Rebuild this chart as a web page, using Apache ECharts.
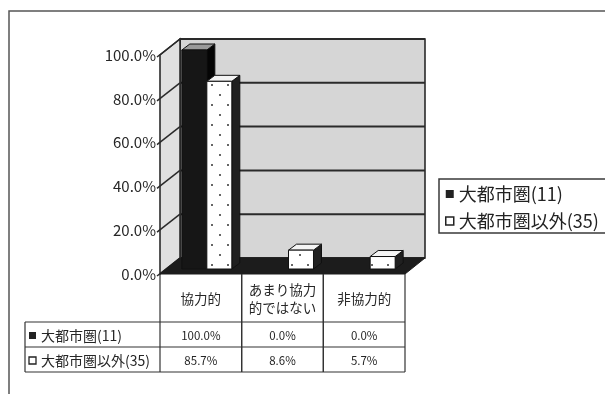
<!DOCTYPE html>
<html>
<head>
<meta charset="utf-8">
<script src="https://cdn.jsdelivr.net/npm/echarts@6/dist/echarts.min.js"></script>
<style>
html,body{margin:0;padding:0;background:#fff;}
#chart{width:605px;height:394px;}
</style>
</head>
<body>
<div id="chart"></div>
<script>
// ---- data ----
const categories = ['協力的', 'あまり協力的ではない', '非協力的'];
const seriesNames = ['大都市圏(11)', '大都市圏以外(35)'];
const metro = [100.0, 0.0, 0.0];
const nonMetro = [85.7, 8.6, 5.7];
const yTicks = [0, 20, 40, 60, 80, 100];

// ---- styling constants ----
const FONT = '"Noto Sans CJK JP", "Noto Sans", sans-serif';
const DX = 20, DY = -16;    // back wall offset
const BX = 6, BY = -5;      // bar front-face plane offset
const BDX = 8, BDY = -6;    // bar depth
const LINE = '#1e1e1e';
const TXT = '#262626';

// dotted pattern
const pat = document.createElement('canvas');
pat.width = 16; pat.height = 20;
(function () {
  const g = pat.getContext('2d');
  g.fillStyle = '#ffffff'; g.fillRect(0, 0, 16, 20);
  g.fillStyle = '#333333';
  g.beginPath(); g.arc(4, 5, 1.0, 0, Math.PI * 2); g.fill();
  g.beginPath(); g.arc(12, 15, 1.0, 0, Math.PI * 2); g.fill();
})();
const dotFill = { image: pat, repeat: 'repeat' };

const chart = echarts.init(document.getElementById('chart'), null, { renderer: 'canvas' });

function wallsRender(params, api) {
  const cs = params.coordSys;
  const x0 = cs.x, x1 = cs.x + cs.width;
  const yb = api.coord([0, 0])[1], yt = api.coord([0, 100])[1];
  const ch = [];
  ch.push({ type: 'polygon', shape: { points: [[x0 + DX, yt + DY], [x1 + DX, yt + DY], [x1 + DX, yb + DY], [x0 + DX, yb + DY]] },
    style: { fill: '#d6d6d6', stroke: LINE, lineWidth: 1.5 } });
  ch.push({ type: 'polygon', shape: { points: [[x0, yt], [x0 + DX, yt + DY], [x0 + DX, yb + DY], [x0, yb]] },
    style: { fill: '#e0e0e0', stroke: LINE, lineWidth: 1.5 } });
  yTicks.forEach(t => {
    const y = api.coord([0, t])[1];
    ch.push({ type: 'line', shape: { x1: x0 + DX, y1: y + DY, x2: x1 + DX, y2: y + DY }, style: { stroke: '#2a2a2a', lineWidth: 2 } });
    ch.push({ type: 'line', shape: { x1: x0 - 3, y1: y + 2, x2: x0 + DX, y2: y + DY }, style: { stroke: '#2a2a2a', lineWidth: 1.5 } });
  });
  ch.push({ type: 'polygon', shape: { points: [[x0, yb], [x0 + DX, yb + DY], [x1 + DX, yb + DY], [x1, yb]] },
    style: { fill: '#1c1c1c', stroke: '#1c1c1c', lineWidth: 1 } });
  return { type: 'group', children: ch };
}

function barRender(sIdx) {
  return function (params, api) {
    const i = api.value(0), v = api.value(1);
    if (!(v > 0)) return null;
    const c = api.coord([i, v]);
    const c0 = api.coord([i, 0]);
    const bw = api.size([1, 0])[0];
    const w = bw * 0.306;
    const left = c[0] + (sIdx === 0 ? -w : 0) + BX;
    const right = left + w;
    const top = c[1] + BY, bot = c0[1] + BY;
    const front = sIdx === 0 ? '#161616' : dotFill;
    const topFill = sIdx === 0 ? '#9a9a9a' : '#f4f4f4';
    const sideFill = sIdx === 0 ? '#050505' : '#202020';
    return { type: 'group', children: [
      { type: 'polygon', shape: { points: [[right, top], [right + BDX, top + BDY], [right + BDX, bot + BDY], [right, bot]] },
        style: { fill: sideFill, stroke: '#111', lineWidth: 1 } },
      { type: 'polygon', shape: { points: [[left, top], [left + BDX, top + BDY], [right + BDX, top + BDY], [right, top]] },
        style: { fill: topFill, stroke: '#111', lineWidth: 1 } },
      { type: 'rect', shape: { x: left, y: top, width: w, height: bot - top },
        style: { fill: front, stroke: '#111', lineWidth: 1 } }
    ] };
  };
}

const rowVals = [metro, nonMetro];
function tableRender(params, api) {
  const i = api.value(0);
  const cs = params.coordSys;
  const c = api.coord([i, 0]);
  const bw = api.size([1, 0])[0];
  const xl = c[0] - bw / 2, xr = c[0] + bw / 2;
  const yb = c[1];
  const r1 = yb + 48, r2 = yb + 73, rb = yb + 98;
  const tl = cs.x - 135;
  const ch = [];
  const ls = { stroke: '#333', lineWidth: 1.2 };
  ch.push({ type: 'line', shape: { x1: xl, y1: yb, x2: xl, y2: rb }, style: ls });
  ch.push({ type: 'line', shape: { x1: xr, y1: yb, x2: xr, y2: rb }, style: ls });
  rowVals.forEach((arr, r) => {
    const yc = (r === 0 ? (r1 + r2) / 2 : (r2 + rb) / 2) + 1;
    ch.push({ type: 'text', style: { text: arr[i].toFixed(1) + '%', x: c[0], y: yc, align: 'center', verticalAlign: 'middle',
      fontSize: 11.5, fontFamily: FONT, fill: TXT } });
  });
  if (i === 0) {
    [r1, r2, rb].forEach(y => ch.push({ type: 'line', shape: { x1: tl, y1: y, x2: cs.x + cs.width, y2: y }, style: ls }));
    ch.push({ type: 'line', shape: { x1: tl, y1: r1, x2: tl, y2: rb }, style: ls });
    seriesNames.forEach((n, r) => {
      const yc = (r === 0 ? (r1 + r2) / 2 : (r2 + rb) / 2) + 1;
      ch.push({ type: 'rect', shape: { x: tl + 4, y: yc - 3.5, width: 7, height: 7 },
        style: r === 0 ? { fill: '#222' } : { fill: '#fff', stroke: '#222', lineWidth: 1.3 } });
      ch.push({ type: 'text', style: { text: n, x: tl + 16, y: yc, align: 'left', verticalAlign: 'middle',
        fontSize: 14, fontFamily: FONT, fill: TXT } });
    });
  }
  return { type: 'group', children: ch };
}

chart.setOption({
  animation: false,
  backgroundColor: '#ffffff',
  grid: { left: 160, right: 200, top: 55, bottom: 120 },
  xAxis: {
    type: 'category',
    data: categories,
    axisLine: { show: false },
    axisTick: { show: false },
    axisLabel: {
      interval: 0,
      margin: 25,
      verticalAlign: 'middle',
      lineHeight: 18,
      fontSize: 13.5,
      fontFamily: FONT,
      color: TXT,
      formatter: s => s.length > 5 ? s.slice(0, 5) + '\n' + s.slice(5) : s
    },
    splitLine: { show: false }
  },
  yAxis: {
    type: 'value',
    min: 0, max: 100, interval: 20,
    axisLine: { show: false },
    axisTick: { show: false },
    splitLine: { show: false },
    axisLabel: { margin: 4, fontSize: 15, fontFamily: FONT, color: TXT, formatter: v => v.toFixed(1) + '%' }
  },
  legend: {
    orient: 'vertical',
    left: 445, top: 179,
    padding: [6, 0, 5, 0],
    itemWidth: 8, itemHeight: 8, itemGap: 9,
    textStyle: { fontSize: 18, fontFamily: FONT, color: '#222' },
    data: [
      { name: seriesNames[0], icon: 'rect', itemStyle: { color: '#222' } },
      { name: seriesNames[1], icon: 'rect', itemStyle: { color: '#fff', borderColor: '#222', borderWidth: 1.5 } }
    ]
  },
  graphic: [
    { type: 'polyline', shape: { points: [[9, 394], [9, 11], [605, 11]] }, style: { stroke: '#555', lineWidth: 1.5, fill: null }, silent: true },
    { type: 'polyline', shape: { points: [[606, 179], [439, 179], [439, 233], [606, 233]] }, style: { stroke: '#3a3a3a', lineWidth: 1.5, fill: null }, silent: true }
  ],
  series: [
    { type: 'custom', name: '_walls', renderItem: wallsRender, data: [[0, 0]], encode: { x: 0, y: 1 }, silent: true, z: 1 },
    { type: 'custom', name: seriesNames[0], renderItem: barRender(0), data: categories.map((c, i) => [i, metro[i]]), encode: { x: 0, y: 1 }, z: 2, itemStyle: { color: '#222' } },
    { type: 'custom', name: seriesNames[1], renderItem: barRender(1), data: categories.map((c, i) => [i, nonMetro[i]]), encode: { x: 0, y: 1 }, z: 3, itemStyle: { color: '#fff' } },
    { type: 'custom', name: '_table', renderItem: tableRender, data: categories.map((c, i) => [i, 0]), encode: { x: 0, y: 1 }, silent: true, z: 4 }
  ]
});
</script>
</body>
</html>
